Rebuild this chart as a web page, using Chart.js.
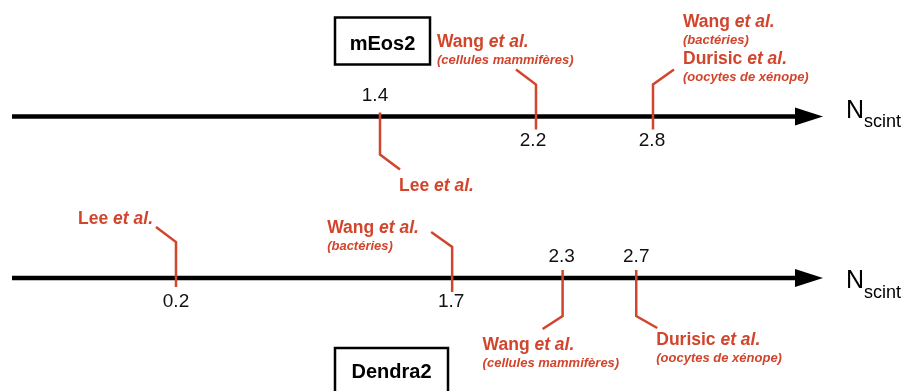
<!DOCTYPE html>
<html>
<head>
<meta charset="utf-8">
<script src="https://cdn.jsdelivr.net/npm/chart.js@4.4.0/dist/chart.umd.min.js"></script>
<style>
  body { margin: 0; background: #fff; }
  canvas { display: block; }
</style>
</head>
<body>
<canvas id="chart" width="903" height="391"></canvas>
<script>
// N_scint values reported in the literature, one number line per protein
const rowNames = ['mEos2', 'Dendra2'];
const mEos2Values = [1.4, 2.2, 2.8];
const mEos2Refs = [
  [['Lee', 'et al.']],
  [['Wang', 'et al.'], '(cellules mammifères)'],
  [['Wang', 'et al.'], '(bactéries)', ['Durisic', 'et al.'], '(oocytes de xénope)']
];
const dendra2Values = [0.2, 1.7, 2.3, 2.7];
const dendra2Refs = [
  [['Lee', 'et al.']],
  [['Wang', 'et al.'], '(bactéries)'],
  [['Wang', 'et al.'], '(cellules mammifères)'],
  [['Durisic', 'et al.'], '(oocytes de xénope)']
];
const axisTitle = ['N', 'scint'];

// leader / label layout (pixel offsets from the point on the axis)
// from/to: vertical part of the leader, ex/ey: slanted end, lx/ly: first label baseline, ny: number baseline
const mEos2Layout = [
  { from: -4, to: 38, ex: 20, ey: 15, lx: 19, ly: 74, align: 'left', nx: -5, ny: -16 },
  { from: 13, to: -32, ex: -20, ey: -15, lx: -99, ly: -70, align: 'left', nx: -3, ny: 29 },
  { from: 13, to: -32, ex: 21, ey: -15, lx: 30, ly: -90, align: 'left', nx: -1, ny: 29 }
];
const dendra2Layout = [
  { from: 9, to: -36, ex: -20, ey: -15, lx: -23, ly: -54, align: 'right', nx: 0, ny: 29 },
  { from: 14, to: -31, ex: -21, ey: -15, lx: -125, ly: -45, align: 'left', nx: -1, ny: 29 },
  { from: -8, to: 38, ex: -20, ey: 13, lx: -80, ly: 72, align: 'left', nx: -1, ny: -16 },
  { from: -8, to: 38, ex: 21, ey: 12, lx: 20, ly: 67, align: 'left', nx: 0, ny: -16 }
];
// title boxes and axis-title placement per row
const boxes = [
  { left: 335, right: 430, top: -99, bottom: -52, base: -67 },
  { left: 335, right: 448, top: 70, bottom: 130, base: 100 }
];
const nameOffsets = [{ n: 1.5, sub: 10.5 }, { n: 10, sub: 20 }];

const RED = '#d2452d';
const FONT = '"Liberation Sans", Arial, Helvetica, sans-serif';

function drawRefLine(ctx, part, x, y, align) {
  ctx.textBaseline = 'alphabetic';
  ctx.textAlign = 'left';
  if (typeof part === 'string') {
    ctx.font = 'italic bold 13px ' + FONT;
    const w = ctx.measureText(part).width;
    ctx.fillText(part, align === 'right' ? x - w : x, y);
    return;
  }
  ctx.font = 'bold 17.5px ' + FONT;
  const a = part[0] + ' ';
  const wa = ctx.measureText(a).width;
  ctx.font = 'italic bold 17.5px ' + FONT;
  const wb = ctx.measureText(part[1]).width;
  let sx = align === 'right' ? x - wa - wb : x;
  ctx.font = 'bold 17.5px ' + FONT;
  ctx.fillText(a, sx, y);
  ctx.font = 'italic bold 17.5px ' + FONT;
  ctx.fillText(part[1], sx + wa, y);
}

const numberLines = {
  id: 'numberLines',
  afterDatasetsDraw(chart) {
    const ctx = chart.ctx;
    const layouts = [mEos2Layout, dendra2Layout];
    const refs = [mEos2Refs, dendra2Refs];
    ctx.save();
    chart.data.datasets.forEach((ds, d) => {
      const meta = chart.getDatasetMeta(d);
      const Y = meta.data[0].y;

      // axis with arrow
      ctx.strokeStyle = '#000';
      ctx.fillStyle = '#000';
      ctx.lineWidth = 4.5;
      ctx.beginPath();
      ctx.moveTo(12, Y);
      ctx.lineTo(798, Y);
      ctx.stroke();
      ctx.beginPath();
      ctx.moveTo(795, Y - 9);
      ctx.lineTo(823, Y);
      ctx.lineTo(795, Y + 9);
      ctx.closePath();
      ctx.fill();

      // N_scint
      ctx.textAlign = 'left';
      ctx.textBaseline = 'alphabetic';
      ctx.font = '25px ' + FONT;
      ctx.fillText(axisTitle[0], 846, Y + nameOffsets[d].n);
      ctx.font = '18px ' + FONT;
      ctx.fillText(axisTitle[1], 864, Y + nameOffsets[d].sub);

      // protein name box
      const b = boxes[d];
      ctx.lineWidth = 2.5;
      ctx.strokeRect(b.left, Y + b.top, b.right - b.left, b.bottom - b.top);
      ctx.font = 'bold 20px ' + FONT;
      ctx.textAlign = 'center';
      ctx.fillText(rowNames[d], (b.left + b.right) / 2, Y + b.base);

      meta.data.forEach((pt, i) => {
        const x = pt.x;
        const lay = layouts[d][i];
        // leader
        ctx.strokeStyle = RED;
        ctx.lineWidth = 2.5;
        ctx.beginPath();
        ctx.moveTo(x, Y + lay.from);
        ctx.lineTo(x, Y + lay.to);
        ctx.lineTo(x + lay.ex, Y + lay.to + lay.ey);
        ctx.stroke();

        // value
        ctx.fillStyle = '#111';
        ctx.font = '19px ' + FONT;
        ctx.textAlign = 'center';
        ctx.textBaseline = 'alphabetic';
        ctx.fillText(ds.data[i].x.toFixed(1), x + lay.nx, Y + lay.ny);

        // references
        ctx.fillStyle = RED;
        let by = Y + lay.ly;
        refs[d][i].forEach((part, k) => {
          if (k > 0) by += typeof part === 'string' ? 17 : 20.5;
          drawRefLine(ctx, part, x + lay.lx, by, lay.align);
        });
      });
    });
    ctx.restore();
  }
};

new Chart(document.getElementById('chart'), {
  type: 'scatter',
  data: {
    datasets: [
      { label: rowNames[0], data: mEos2Values.map(v => ({ x: v, y: 1 })), xAxisID: 'x', pointRadius: 0 },
      { label: rowNames[1], data: dendra2Values.map(v => ({ x: v, y: 0 })), xAxisID: 'x2', pointRadius: 0 }
    ]
  },
  options: {
    responsive: false,
    animation: false,
    events: [],
    layout: { padding: 0 },
    plugins: { legend: { display: false }, tooltip: { enabled: false } },
    scales: {
      x: { type: 'linear', display: false, min: -0.5487, max: 4.0821 },
      x2: { type: 'linear', display: false, min: -0.756, max: 4.149 },
      y: { type: 'linear', display: false, min: -0.6997, max: 1.7214 }
    }
  },
  plugins: [numberLines]
});
</script>
</body>
</html>
